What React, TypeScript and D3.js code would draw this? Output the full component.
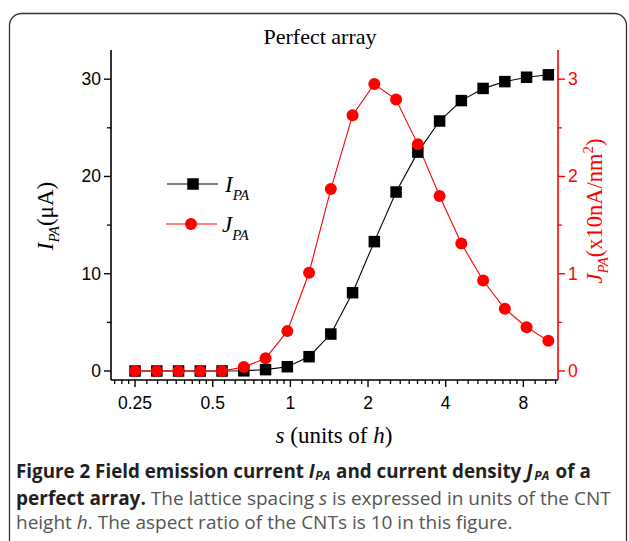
import React from 'react';
import * as d3 from 'd3';

// lattice spacing s (units of h)
const sValues = [0.25, 0.30357, 0.36862, 0.44761, 0.54353, 0.66, 0.80143, 0.97316, 1.18169, 1.4349,
  1.74237, 2.11574, 2.5691, 3.11962, 3.7881, 4.59983, 5.58548, 6.78234, 8.23568, 10.0];
// field emission current I_PA (µA)
const currentI = [0, 0, 0, 0, 0, 0.02, 0.14, 0.44, 1.47, 3.8, 8.05, 13.3, 18.4, 22.5, 25.7, 27.8, 29.05, 29.75, 30.2, 30.45];
// current density J_PA (x10 nA/nm²)
const densityJ = [0, 0, 0, 0, 0, 0.04, 0.13, 0.41, 1.01, 1.87, 2.63, 2.95, 2.79, 2.33, 1.8, 1.31, 0.93, 0.64, 0.45, 0.31];

const xTicks = [0.25, 0.5, 1, 2, 4, 8];
const xTickLabels = ['0.25', '0.5', '1', '2', '4', '8'];
const leftTicks = [0, 10, 20, 30];
const leftMinor = [5, 15, 25];
const rightTicks = [0, 1, 2, 3];
const rightMinor = [0.5, 1.5, 2.5];

const SERIF = '"Liberation Serif", "Times New Roman", serif';
const SANS = '"Liberation Sans", Arial, sans-serif';
const CAP = '"Open Sans", "Noto Sans", sans-serif';
const RED = '#ff0000';

export default function App() {
  const W = 629, H = 541;
  const left = 111, right = 558, top = 50, bottom = 380;
  const x = d3.scaleLog().base(2).domain([0.2017, 10.9]).range([left, right]);
  const yL = d3.scaleLinear().domain([-0.925, 33]).range([bottom, top]);
  const yR = d3.scaleLinear().domain([-0.0925, 3.3]).range([bottom, top]);

  const lineI = d3.line<number>().x((_, i) => x(sValues[i])).y((d) => yL(d));
  const lineJ = d3.line<number>().x((_, i) => x(sValues[i])).y((d) => yR(d));

  // minor ticks on the log axis: 8 linear subdivisions between successive octaves
  const minorX: number[] = [];
  const octaves = [0.125, 0.25, 0.5, 1, 2, 4, 8];
  octaves.forEach((a) => {
    for (let k = 1; k <= 8; k++) {
      const v = a * (1 + k / 9);
      if (x(v) >= left + 1 && x(v) <= right - 1) minorX.push(v);
    }
  });

  const sq = 11.5;
  return (
    <svg width={W} height={H} style={{ position: 'absolute', left: 0, top: 0, background: '#fff' }}>
      <rect x={9.5} y={13.5} width={617} height={540} rx={12} fill="none" stroke="#333" strokeWidth={1.3} />
      <text x={320} y={44} textAnchor="middle" fontFamily={SERIF} fontSize={22}>Perfect array</text>

      {/* left axis */}
      <line x1={left} x2={left} y1={top} y2={bottom} stroke="#000" strokeWidth={1.6} />
      {leftTicks.map((t) => (
        <g key={'l' + t}>
          <line x1={left - 7} x2={left} y1={yL(t)} y2={yL(t)} stroke="#000" strokeWidth={1.4} />
          <text x={left - 10} y={yL(t) + 6} textAnchor="end" fontFamily={SANS} fontSize={17.5}>{t}</text>
        </g>
      ))}
      {leftMinor.map((t) => (
        <line key={'lm' + t} x1={left - 4} x2={left} y1={yL(t)} y2={yL(t)} stroke="#000" strokeWidth={1.3} />
      ))}

      {/* right axis */}
      <line x1={right} x2={right} y1={top} y2={bottom} stroke={RED} strokeWidth={1.6} />
      {rightTicks.map((t) => (
        <g key={'r' + t}>
          <line x1={right} x2={right + 7} y1={yR(t)} y2={yR(t)} stroke={RED} strokeWidth={1.4} />
          <text x={right + 10} y={yR(t) + 6} textAnchor="start" fontFamily={SANS} fontSize={17.5} fill={RED}>{t}</text>
        </g>
      ))}
      {rightMinor.map((t) => (
        <line key={'rm' + t} x1={right} x2={right + 4} y1={yR(t)} y2={yR(t)} stroke={RED} strokeWidth={1.3} />
      ))}

      {/* bottom axis */}
      <line x1={left} x2={right} y1={bottom} y2={bottom} stroke="#000" strokeWidth={1.6} />
      {minorX.map((v, i) => (
        <line key={'xm' + i} x1={x(v)} x2={x(v)} y1={bottom} y2={bottom + 4} stroke="#000" strokeWidth={1.3} />
      ))}
      {xTicks.map((t, i) => (
        <g key={'x' + t}>
          <line x1={x(t)} x2={x(t)} y1={bottom} y2={bottom + 7} stroke="#000" strokeWidth={1.4} />
          <text x={x(t)} y={bottom + 29} textAnchor="middle" fontFamily={SANS} fontSize={17.5}>{xTickLabels[i]}</text>
        </g>
      ))}

      {/* axis titles */}
      <text x={334} y={443} textAnchor="middle" fontFamily={SERIF} fontSize={23}>
        <tspan fontStyle="italic">s</tspan> (units of <tspan fontStyle="italic">h</tspan>)
      </text>
      <text transform="translate(53,216) rotate(-90)" textAnchor="middle" fontFamily={SERIF} fontSize={23}>
        <tspan fontStyle="italic">I</tspan>
        <tspan fontStyle="italic" fontSize={15} dy={6}>PA</tspan>
        <tspan dy={-6}>(μA)</tspan>
      </text>
      <text transform="translate(602,211) rotate(-90)" textAnchor="middle" fontFamily={SERIF} fontSize={22.5} fill={RED}>
        <tspan fontStyle="italic">J</tspan>
        <tspan fontStyle="italic" fontSize={15} dy={6}>PA</tspan>
        <tspan dy={-6}>(x10nA/nm</tspan>
        <tspan fontSize={15} dy={-9}>2</tspan>
        <tspan dy={9}>)</tspan>
      </text>

      {/* series */}
      <path d={lineI(currentI) || ''} fill="none" stroke="#000" strokeWidth={1.1} />
      <path d={lineJ(densityJ) || ''} fill="none" stroke={RED} strokeWidth={1.1} />
      {currentI.map((v, i) => (
        <rect key={'s' + i} x={x(sValues[i]) - sq / 2} y={yL(v) - sq / 2} width={sq} height={sq} fill="#000" />
      ))}
      {densityJ.map((v, i) => (
        <circle key={'c' + i} cx={x(sValues[i])} cy={yR(v)} r={6} fill={RED} />
      ))}

      {/* legend */}
      <line x1={167} x2={218} y1={184} y2={184} stroke="#000" strokeWidth={1.1} />
      <rect x={193 - sq / 2} y={184 - sq / 2} width={sq} height={sq} fill="#000" />
      <text x={225} y={192} fontFamily={SERIF} fontSize={23} fontStyle="italic">
        I<tspan fontSize={15} dy={8}>PA</tspan>
      </text>
      <line x1={166} x2={217} y1={224} y2={224} stroke={RED} strokeWidth={1.1} />
      <circle cx={191} cy={224} r={6} fill={RED} />
      <text x={222} y={232} fontFamily={SERIF} fontSize={23} fontStyle="italic">
        J<tspan fontSize={15} dy={8}>PA</tspan>
      </text>

      {/* caption */}
      <text x={16} y={477.5} fontFamily={CAP} fontSize={18.8} fontWeight="bold" fill="#231f20">
        <tspan>Figure 2 Field emission current </tspan>
        <tspan fontStyle="italic">I</tspan>
        <tspan fontStyle="italic" fontSize={12} dy={2.5} dx={0.5}>PA</tspan>
        <tspan dy={-2.5} dx={1}> and current density </tspan>
        <tspan fontStyle="italic">J</tspan>
        <tspan fontStyle="italic" fontSize={12} dy={2.5} dx={2}>PA</tspan>
        <tspan dy={-2.5} dx={1.5}> of a</tspan>
      </text>
      <text x={16} y={504.5} fontFamily={CAP} fontSize={19} fill="#555">
        <tspan fontWeight="bold" fill="#231f20">perfect array.</tspan> The lattice spacing <tspan fontStyle="italic">s</tspan> is expressed in units of the CNT
      </text>
      <text x={16} y={529} fontFamily={CAP} fontSize={19} fill="#555">
        height <tspan fontStyle="italic">h</tspan>. The aspect ratio of the CNTs is 10 in this figure.
      </text>
    </svg>
  );
}
